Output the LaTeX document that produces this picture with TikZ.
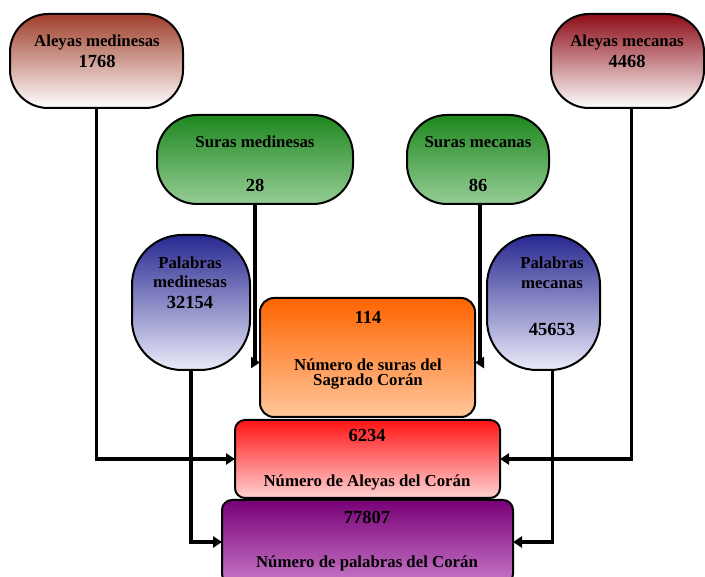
\documentclass[tikz,border=0pt]{standalone}
\usepackage{fontspec}
\setmainfont{Liberation Serif}
\usetikzlibrary{arrows.meta,calc}
\definecolor{amtop}{RGB}{160,62,42}
\definecolor{amctop}{RGB}{140,12,22}
\definecolor{grtop}{RGB}{30,135,30}
\definecolor{grbot}{RGB}{150,205,150}
\definecolor{bltop}{RGB}{40,40,145}
\definecolor{blbot}{RGB}{235,235,250}
\definecolor{ortop}{RGB}{255,100,0}
\definecolor{orbot}{RGB}{255,198,155}
\definecolor{rdtop}{RGB}{255,20,20}
\definecolor{rdbot}{RGB}{255,210,210}
\definecolor{putop}{RGB}{120,0,120}
\definecolor{pubot}{RGB}{200,120,200}
\tikzset{
  box/.style={draw=black,line width=2pt,inner sep=0pt,outer sep=0pt},
  lbl/.style={font=\fontsize{16.8}{19}\selectfont\bfseries,inner sep=0pt,anchor=center},
  num/.style={font=\fontsize{18.5}{21}\selectfont\bfseries,inner sep=0pt,anchor=center},
  conn/.style={draw=black,line width=3.5pt,-{Triangle[length=9pt,width=11pt]}},
}
\begin{document}
\begin{tikzpicture}[x=1pt,y=-1pt]
\useasboundingbox (0,0) rectangle (705,577);
\clip (0,0) rectangle (705,577);
\fill[white] (0,0) rectangle (705,577);
% boxes
\node[box,rounded corners=38pt,minimum width=173pt,minimum height=94pt,top color=amtop,bottom color=white] (am) at (96.5,61) {};
\node[box,rounded corners=38pt,minimum width=153pt,minimum height=94pt,top color=amctop,bottom color=white] (amc) at (627.5,61) {};
\node[box,rounded corners=40pt,minimum width=196pt,minimum height=89pt,top color=grtop,bottom color=grbot] (sm) at (255,159.5) {};
\node[box,rounded corners=40pt,minimum width=142pt,minimum height=89pt,top color=grtop,bottom color=grbot] (smc) at (478,159.5) {};
\node[box,rounded corners=50pt,minimum width=118pt,minimum height=135pt,top color=bltop,bottom color=blbot] (pm) at (191,302.5) {};
\node[box,rounded corners=50pt,minimum width=113pt,minimum height=135pt,top color=bltop,bottom color=blbot] (pmc) at (543.5,302.5) {};
\node[box,rounded corners=14pt,minimum width=215pt,minimum height=119pt,top color=ortop,bottom color=orbot] (or) at (367.5,357.5) {};
\node[box,rounded corners=10pt,minimum width=265pt,minimum height=78pt,top color=rdtop,bottom color=rdbot] (rd) at (367.5,459) {};
\node[box,rounded corners=10pt,minimum width=291pt,minimum height=84pt,top color=putop,bottom color=pubot] (pu) at (367.5,542) {};
% labels
\node[lbl] (t1) at (97,42) {Aleyas medinesas};
\node[num] (t2) at (97,61) {1768};
\node[lbl] (t3) at (627,42) {Aleyas mecanas};
\node[num] (t4) at (627,61) {4468};
\node[lbl] (t5) at (255,142) {Suras medinesas};
\node[num] (t6) at (255,185) {28};
\node[lbl] (t7) at (478,142) {Suras mecanas};
\node[num] (t8) at (478,185) {86};
\node[lbl] (t9) at (190,263) {Palabras};
\node[lbl] (t10) at (190,282) {medinesas};
\node[num] (t11) at (190,302) {32154};
\node[lbl] (t12) at (552,263) {Palabras};
\node[lbl] (t13) at (552,285) {mecanas};
\node[num] (t14) at (552,329) {45653};
\node[num] (t15) at (368,317) {114};
\node[lbl] (t16) at (368,365) {Número de suras del};
\node[lbl] (t17) at (368,382) {Sagrado Corán};
\node[num] (t18) at (367,435) {6234};
\node[lbl] (t19) at (367,482) {Número de Aleyas del Corán};
\node[num] (t20) at (367,517) {77807};
\node[lbl] (t21) at (367,563) {Número de palabras del Corán};
% connectors
\draw[conn] (am.south) |- (rd.west);
\draw[conn] ([xshift=4pt]amc.south) |- (rd.east);
\draw[conn] (sm.south) |- ([yshift=-5pt]or.west);
\draw[conn] ([xshift=2pt]smc.south) |- ([yshift=-5pt]or.east);
\draw[conn] (pm.south) |- (pu.west);
\draw[conn] ([xshift=9pt]pmc.south) |- (pu.east);
\end{tikzpicture}
\end{document}
